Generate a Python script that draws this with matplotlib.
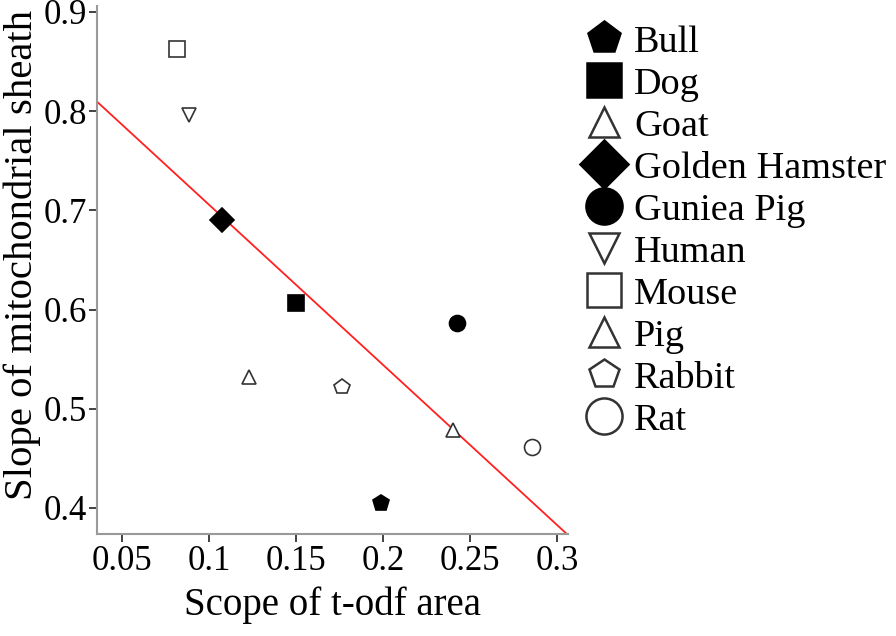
import matplotlib
matplotlib.use('Agg')
import matplotlib.pyplot as plt
from matplotlib.lines import Line2D

# values
species = ['Bull', 'Dog', 'Goat', 'Golden Hamster', 'Guniea Pig',
           'Human', 'Mouse', 'Pig', 'Rabbit', 'Rat']
todf_scope = [0.1987, 0.1500, 0.1232, 0.1073, 0.2427,
              0.0887, 0.0814, 0.2404, 0.1764, 0.2858]
sheath_slope = [0.4047, 0.6063, 0.5318, 0.6900, 0.5868,
                0.7960, 0.8627, 0.4786, 0.5217, 0.4618]
fit_intercept = 0.867
fit_slope = -1.614

x_ticks = [0.05, 0.1, 0.15, 0.2, 0.25, 0.3]
x_ticklabels = ['0.05', '0.1', '0.15', '0.2', '0.25', '0.3']
y_ticks = [0.4, 0.5, 0.6, 0.7, 0.8, 0.9]

# marker, filled?, size in plot, size in legend
styles = {
    'Bull': ('p', True, 12, 24),
    'Dog': ('s', True, 12, 25),
    'Goat': ('^', False, 10, 21),
    'Golden Hamster': ('D', True, 12, 24),
    'Guniea Pig': ('o', True, 11.5, 26),
    'Human': ('v', False, 10, 21),
    'Mouse': ('s', False, 12, 25),
    'Pig': ('^', False, 10, 21),
    'Rabbit': ('p', False, 11.5, 22),
    'Rat': ('o', False, 11.5, 26),
}

plt.rcParams['font.family'] = ['Liberation Serif', 'DejaVu Serif']

fig = plt.figure(figsize=(8.96, 6.36), dpi=100)
ax = fig.add_axes([0.1083, 0.1604, 0.5257, 0.8302])

handles = []
for name, x, y in zip(species, todf_scope, sheath_slope):
    m, filled, ms, lms = styles[name]
    face = 'black' if filled else 'white'
    edge = 'black' if filled else '#333333'
    ax.plot([x], [y], linestyle='none', marker=m, markersize=ms,
            markerfacecolor=face, markeredgecolor=edge, markeredgewidth=1.2,
            zorder=3)
    handles.append(Line2D([], [], linestyle='none', marker=m, markersize=lms,
                          markerfacecolor=face, markeredgecolor=edge,
                          markeredgewidth=1.8, label=name))

xlim = (0.0356, 0.3063)
ax.plot(xlim, [fit_intercept + fit_slope * v for v in xlim],
        color='#ff2020', linewidth=1.3, zorder=2, clip_on=True)

ax.set_xlim(xlim)
ax.set_ylim(0.3738, 0.906)
ax.set_xticks(x_ticks)
ax.set_xticklabels(x_ticklabels)
ax.set_yticks(y_ticks)

for side in ['top', 'right']:
    ax.spines[side].set_visible(False)
for side in ['left', 'bottom']:
    ax.spines[side].set_color('#999999')
    ax.spines[side].set_linewidth(1.5)

ax.tick_params(axis='both', direction='out', length=6, width=1.3,
               color='#333333', labelsize=25)
ax.tick_params(axis='x', pad=2)
ax.tick_params(axis='y', pad=1)

ax.set_xlabel('Scope of t-odf area', fontsize=28, labelpad=6)
ax.set_ylabel('Slope of mitochondrial sheath', fontsize=29.3, labelpad=2)
ax.yaxis.label.set_y(0.528)

fig.legend(handles=handles, loc='upper left', bbox_to_anchor=(0.6235, 1.003),
           frameon=False, fontsize=27.5, handlelength=1.0, handletextpad=0.28,
           labelspacing=0.19, borderpad=0.2)

fig.savefig('out.png', dpi=100)
